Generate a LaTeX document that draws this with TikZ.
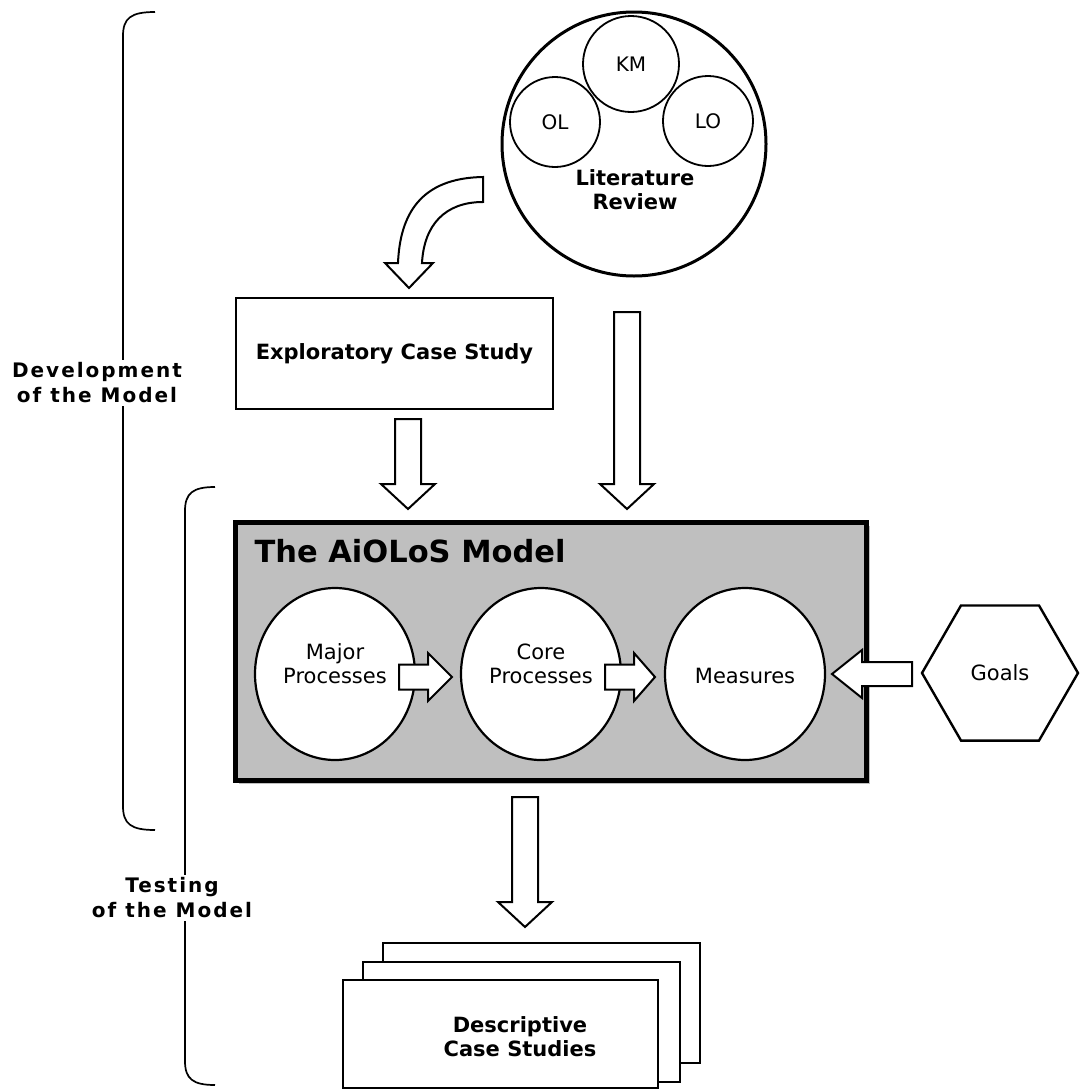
\documentclass[tikz,border=0pt]{standalone}
\usepackage{fontspec}
\setmainfont{DejaVu Sans}
\newfontfamily\spacedfont[LetterSpace=10]{DejaVu Sans}
\usetikzlibrary{shapes.geometric,shadows}

\tikzset{
  ring/.style={draw, circle, line width=1.8pt, inner sep=0pt, font=\fontsize{20}{24}\selectfont},
  stage/.style={draw, fill=white, ellipse, line width=2.2pt, minimum width=160pt, minimum height=172pt, inner sep=0pt},
  blk/.style={draw, fill=white, line width=2pt, line join=miter},
  card/.style={draw, fill=white, line width=2.6pt, minimum width=317pt, minimum height=120pt},
  boldtext/.style={align=center, font=\fontsize{21}{24}\selectfont\bfseries},
  sidelabel/.style={fill=white, align=center, inner sep=3pt, font=\fontsize{20}{25}\selectfont\spacedfont\bfseries},
}

% block arrows: centre, shaft half width, start, head base, tip
\newcommand\downblock[5]{\draw[blk] (#1-#2,#3) -- (#1+#2,#3) -- (#1+#2,#4) -- (#1+27,#4) -- (#1,#5) -- (#1-27,#4) -- (#1-#2,#4) -- cycle;}
\newcommand\sideblock[5]{\draw[blk] (#3,#1-#2) -- (#4,#1-#2) -- (#4,#1-24) -- (#5,#1) -- (#4,#1+24) -- (#4,#1+#2) -- (#3,#1+#2) -- cycle;}

\begin{document}
\begin{tikzpicture}[x=1pt,y=-1pt,font=\fontsize{21}{24}\selectfont]

            \useasboundingbox (0,0) rectangle (1083,1090);

            % braces
            \draw[line width=1.7pt] (155,12) .. controls (131,12) and (123,18) .. (123,36) -- (123,806) .. controls (123,824) and (131,830) .. (155,830);
            \draw[line width=1.7pt] (215,487) .. controls (193,487) and (185,493) .. (185,511) -- (185,1061) .. controls (185,1079) and (193,1085) .. (215,1085);

            \node[sidelabel] (devlabel) at (97,383) {Development\\of the Model};
            \node[sidelabel] (testlabel) at (172,898) {Testing\\of the Model};

            % literature review
            \node[ring, minimum size=264pt, line width=3pt] (litrev) at (634,144) {};
            \node[ring, minimum size=96pt] (km) at (631,64) {KM};
            \node[ring, minimum size=90pt] (ol) at (555,122) {OL};
            \node[ring, minimum size=90pt] (lo) at (708,121) {LO};
            \node[boldtext] (littext) at (635,190) {Literature\\Review};

            % exploratory case study
            \node[draw, line width=2.6pt, minimum width=317pt, minimum height=111pt, boldtext] (explo) at (394.5,353.5) {Exploratory Case Study};

            \draw[blk] (483,177) -- (483,202) .. controls (445,202) and (424,225) .. (422,263) -- (433,263) -- (409,288) -- (385,263) -- (398,263) .. controls (400,215) and (420,178) .. (483,177) -- cycle;

            \downblock{408}{13}{419}{484}{509}
            \downblock{627}{13}{312}{484}{509}

            % the model
            \node[draw, line width=5pt, fill=black!25, minimum width=631pt, minimum height=258pt,
                  drop shadow={shadow xshift=4pt, shadow yshift=-4pt, opacity=0.5}] (model) at (550.5,651) {};
            \node[anchor=base west, font=\fontsize{30.5}{34}\selectfont\bfseries] (title) at (251,562) {The AiOLoS Model};

            \node[stage] (major) at (335,674) {};
            \node[stage] (core) at (541,674) {};
            \node[stage] (measures) at (745,674) {};
            \node[align=center] at (335,664) {Major\\Processes};
            \node[align=center] at (541,664) {Core\\Processes};
            \node at (745,676) {Measures};

            \sideblock{677}{12.5}{399}{428}{452}
            \sideblock{677}{12.5}{605}{634}{655}

            % goals
            \node[draw, regular polygon, regular polygon sides=6, minimum size=156pt, line width=2.4pt, inner sep=0pt] (goals) at (1000,673) {Goals};
            \sideblock{674}{12}{912}{862}{832}

            % descriptive case studies
            \downblock{525}{13}{797}{902}{927}
            \node[card] (desc3) at (541.5,1003) {};
            \node[card] (desc2) at (521.5,1022) {};
            \node[card, minimum width=315pt, minimum height=108pt] (desc) at (500.5,1034) {};
            \node[boldtext] at (520,1037) {Descriptive\\Case Studies};

\end{tikzpicture}
\end{document}
